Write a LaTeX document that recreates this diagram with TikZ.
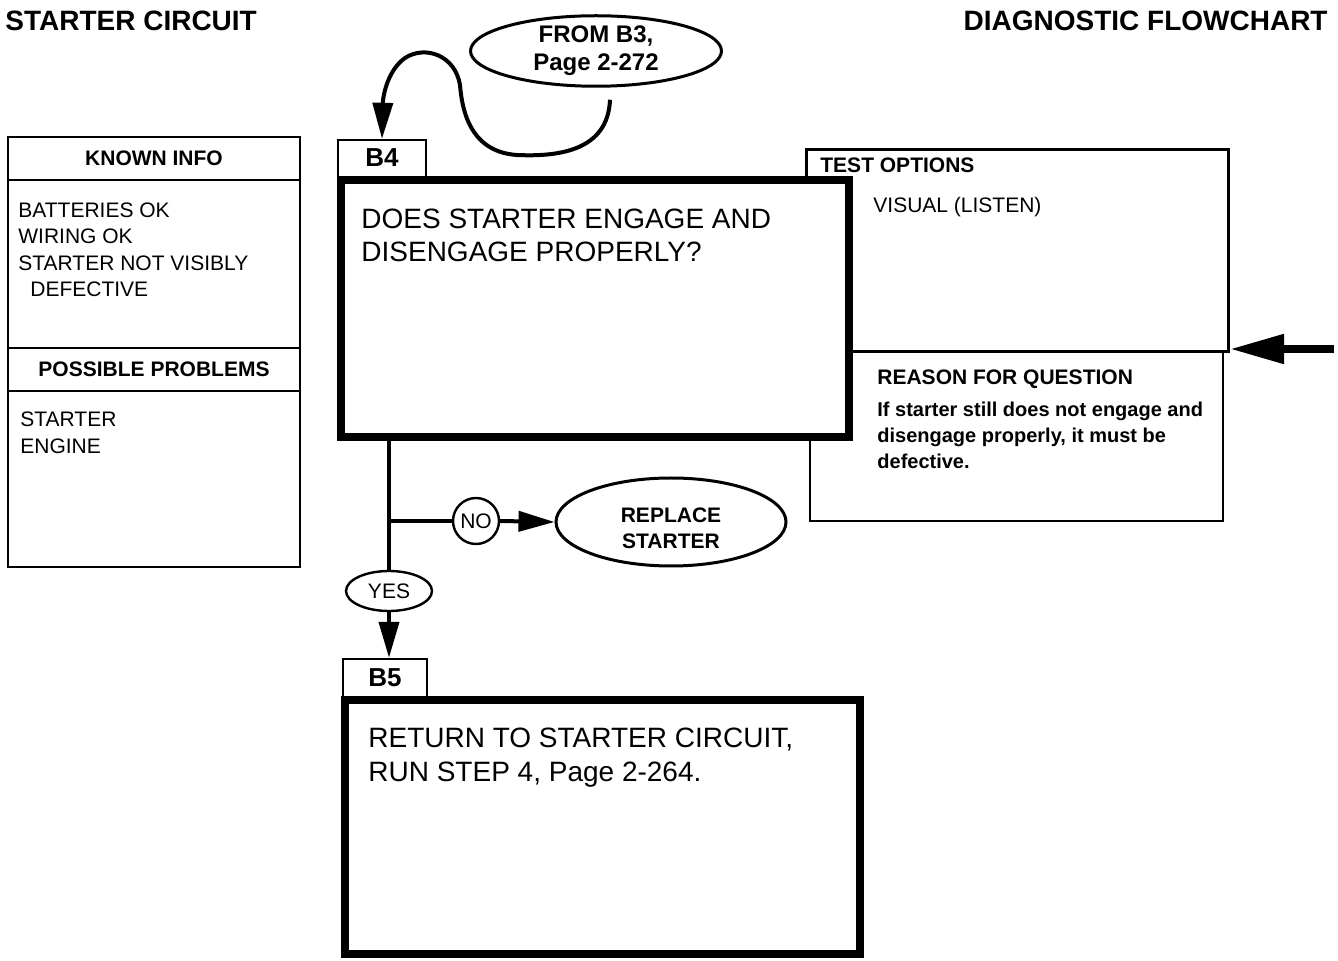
\documentclass[tikz,border=0pt]{standalone}
\usepackage{fontspec}
\setmainfont{Liberation Sans}
\usepackage{tikz}
\usetikzlibrary{arrows.meta,positioning,fit,shapes.geometric}
\tikzset{
  thinbox/.style={draw=black, line width=1pt, inner sep=0pt},
  midbox/.style={draw=black, line width=1.5pt, inner sep=0pt},
  qbox/.style={draw=black, line width=4pt, fill=white, inner sep=0pt},
  tabbox/.style={draw=black, line width=1.2pt, inner sep=0pt},
  tabtxt/.style={font=\fontsize{13}{15}\selectfont\bfseries, inner sep=0pt},
  hdtxt/.style={font=\fontsize{10.5}{13}\selectfont\bfseries, inner sep=0pt},
  bodytxt/.style={font=\fontsize{10.5}{13.25}\selectfont, align=left,
                  inner sep=0pt, anchor=north west},
  qtxt/.style={font=\fontsize{14}{16.5}\selectfont, align=left,
               inner sep=0pt, anchor=north west},
  titletxt/.style={font=\fontsize{14}{16}\selectfont\bfseries, inner sep=0pt},
  oval/.style={draw=black, ellipse, line width=1.5pt, inner sep=0pt,
               align=center, font=\fontsize{12}{14}\selectfont\bfseries},
  ovaltxt/.style={align=center, inner sep=0pt,
                  font=\fontsize{10.5}{13}\selectfont\bfseries},
  tagoval/.style={draw=black, ellipse, line width=1.2pt, inner sep=0pt,
                  font=\fontsize{10.5}{12}\selectfont},
  flowline/.style={line width=2pt, black},
  flowarr/.style={flowline, -{Triangle[length=18pt,width=10pt]}},
  feedarr/.style={line width=4pt, black, -{Triangle[length=27pt,width=14pt]}}
}

\begin{document}
\begin{tikzpicture}[x=0.5pt, y=-0.5pt]
  \useasboundingbox (0,0) rectangle (1338,961);

  % headings
  \node[titletxt, anchor=north west] (ttl) at (5,11) {STARTER CIRCUIT};
  \node[titletxt, anchor=north east] (ttr) at (1328,11) {DIAGNOSTIC FLOWCHART};

  % left column
  \node[thinbox, fit={(8,137)(300,180)},
        label={[hdtxt]center:KNOWN INFO}] (khead) {};
  \node[thinbox, fit={(8,180)(300,348)}] (kbody) {};
  \node[thinbox, fit={(8,348)(300,391)},
        label={[hdtxt]center:POSSIBLE PROBLEMS}] (phead) {};
  \node[thinbox, fit={(8,391)(300,567)}] (pbody) {};
  \node[bodytxt] (kinfo) at (18,202)
    {BATTERIES OK\\WIRING OK\\STARTER NOT VISIBLY\\\hspace*{6pt}DEFECTIVE};
  \node[bodytxt, font=\fontsize{10.5}{13.5}\selectfont] (pinfo) at (20,411)
    {STARTER\\ENGINE};

  % right column
  \node[thinbox, fit={(810,352)(1223,521)}] (rbox) {};
  \node[midbox, fit={(806.5,149.5)(1228.5,351.5)}] (tbox) {};
  \node[hdtxt, anchor=north west] (thead) at (820,157) {TEST OPTIONS};
  \node[bodytxt] (tinfo) at (873,197) {VISUAL (LISTEN)};
  \node[hdtxt, anchor=north west] (rhead) at (877,369) {REASON FOR QUESTION};
  \node[bodytxt, font=\fontsize{10}{13}\selectfont\bfseries] (rinfo) at (877,402)
    {If starter still does not engage and\\disengage properly, it must be\\defective.};

  % step B4
  \node[qbox, fit={(341,180)(849,437)}] (b4box) {};
  \node[tabbox, fit={(338,140)(426,180)},
        label={[tabtxt, yshift=1pt]center:B4}] (b4tab) {};
  \node[qtxt] (b4q) at (361,209) {DOES STARTER ENGAGE AND\\DISENGAGE PROPERLY?};

  % step B5
  \node[qbox, fit={(345,700)(860,954)}] (b5box) {};
  \node[tabbox, fit={(343,659)(427,700)},
        label={[tabtxt, yshift=1pt]center:B5}] (b5tab) {};
  \node[qtxt, font=\fontsize{14}{17}\selectfont] (b5q) at (368,728)
    {RETURN TO STARTER CIRCUIT,\\RUN STEP 4, Page 2-264.};

  % ovals
  \node[oval, minimum width=125.5pt, minimum height=34pt] (fromb) at (596,51)
    {FROM B3,\\Page 2-272};
  \node[oval, minimum width=115pt, minimum height=44pt,
        label={[ovaltxt, yshift=-3pt]center:REPLACE\\STARTER}] (repl) at (671,522) {};
  \node[tagoval, circle, minimum size=23pt] (no) at (476,521) {NO};
  \node[tagoval, minimum width=43pt, minimum height=20pt] (yes) at (389,591) {YES};

  % connectors
  \draw[flowarr] ([xshift=7pt,yshift=-6pt]fromb.south)
    .. controls (608,150) and (560,157) .. (517,155)
    .. controls (470,152) and (462,110) .. (460,85)
    .. controls (455,55) and (425,45) .. (405,58)
    .. controls (388,70) and (383,95) .. (b4tab.north);
  \coordinate (split) at (389,521);
  \draw[flowline] (b4box.south -| split) -- (yes.north);
  \draw[flowline] (split) -- (no.west);
  \draw[flowarr] (no.east) -- (repl.west);
  \draw[flowarr] (yes.south) -- (yes.south |- b5tab.north);
  \coordinate (feed) at (1334,349);
  \draw[feedarr] (feed) -- (feed -| tbox.east);
\end{tikzpicture}
\end{document}
